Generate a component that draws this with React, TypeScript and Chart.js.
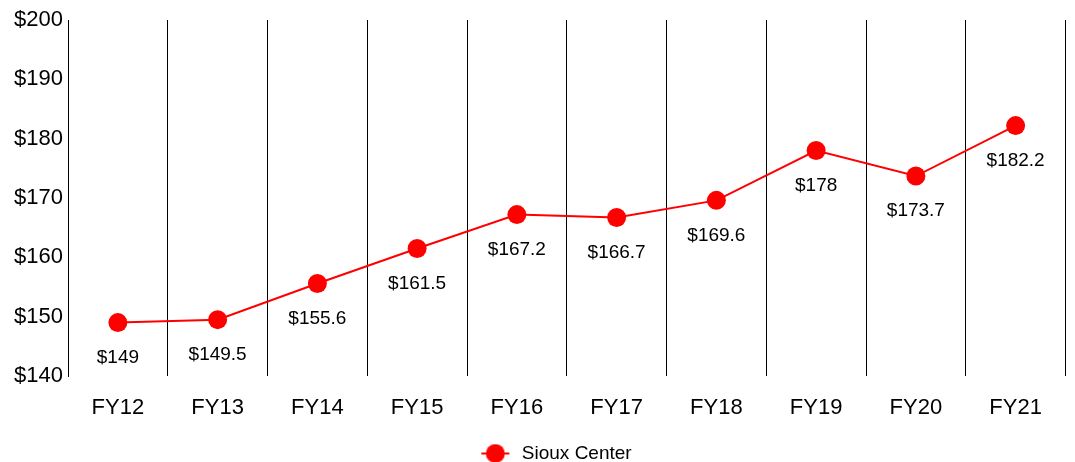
import React, { useEffect, useRef } from "react";
import { Chart, registerables } from "chart.js";

Chart.register(...registerables);

const categories = ["FY12", "FY13", "FY14", "FY15", "FY16", "FY17", "FY18", "FY19", "FY20", "FY21"];
const siouxCenter = [149, 149.5, 155.6, 161.5, 167.2, 166.7, 169.6, 178, 173.7, 182.2];
const seriesName = "Sioux Center";
const yMin = 140;
const yMax = 200;
const yStep = 10;

const FONT = "'Liberation Sans', Arial, sans-serif";
const RED = "#ff0000";

function makeLegendIcon(): HTMLCanvasElement {
  const c = document.createElement("canvas");
  c.width = 76;
  c.height = 22;
  const ctx = c.getContext("2d")!;
  ctx.strokeStyle = RED;
  ctx.lineWidth = 2;
  ctx.beginPath();
  ctx.moveTo(45, 11);
  ctx.lineTo(73, 11);
  ctx.stroke();
  ctx.fillStyle = RED;
  ctx.beginPath();
  ctx.arc(59, 11, 9.5, 0, Math.PI * 2);
  ctx.fill();
  return c;
}

const valueLabels = {
  id: "valueLabels",
  afterDatasetsDraw(chart: any) {
    const ctx = chart.ctx;
    const meta = chart.getDatasetMeta(0);
    const data = chart.data.datasets[0].data as number[];
    ctx.save();
    ctx.font = `19px ${FONT}`;
    ctx.fillStyle = "#000";
    ctx.textAlign = "center";
    ctx.textBaseline = "middle";
    meta.data.forEach((pt: any, i: number) => {
      ctx.fillText("$" + data[i], pt.x, pt.y + 35);
    });
    ctx.restore();
  },
};

export default function App() {
  const ref = useRef<HTMLCanvasElement>(null);
  useEffect(() => {
    if (!ref.current) return;
    const icon = makeLegendIcon();
    const chart = new Chart(ref.current, {
      type: "line",
      data: {
        labels: categories,
        datasets: [
          {
            label: seriesName,
            data: siouxCenter,
            borderColor: RED,
            backgroundColor: RED,
            borderWidth: 2,
            pointRadius: 9.5,
            pointHoverRadius: 9.5,
            pointBackgroundColor: RED,
            pointBorderColor: RED,
            pointBorderWidth: 0,
            tension: 0,
            fill: false,
          },
        ],
      },
      options: {
        animation: false,
        responsive: true,
        maintainAspectRatio: false,
        layout: { padding: { left: 0, right: 7, top: 20, bottom: -11 } },
        plugins: {
          tooltip: { enabled: false },
          legend: {
            position: "bottom",
            labels: {
              usePointStyle: true,
              pointStyleWidth: 76,
              color: "#000",
              font: { family: FONT, size: 19 },
              padding: 0,
              generateLabels: () => [
                {
                  text: seriesName,
                  pointStyle: icon,
                  fillStyle: RED,
                  strokeStyle: RED,
                  lineWidth: 0,
                  hidden: false,
                  datasetIndex: 0,
                  fontColor: "#000",
                },
              ],
            },
          },
        },
        scales: {
          x: {
            offset: true,
            grid: {
              display: true,
              offset: true,
              color: "#000",
              lineWidth: 1,
              drawTicks: false,
            },
            border: { display: false },
            ticks: {
              color: "#000",
              font: { family: FONT, size: 22 },
              padding: 19,
            },
            afterFit: (s: any) => {
              s.height = 68;
            },
          },
          y: {
            min: yMin,
            max: yMax,
            grid: { display: false, drawTicks: false },
            border: { display: true, color: "#000", width: 1 },
            ticks: {
              stepSize: yStep,
              color: "#000",
              font: { family: FONT, size: 22 },
              padding: 5,
              callback: (v: any) => "$" + v,
            },
            afterFit: (s: any) => {
              s.width = 68;
            },
          },
        },
      },
      plugins: [valueLabels],
    });
    return () => chart.destroy();
  }, []);
  return (
    <div style={{ position: "absolute", left: 0, top: 0, width: 1075, height: 462 }}>
      <canvas ref={ref} />
    </div>
  );
}
